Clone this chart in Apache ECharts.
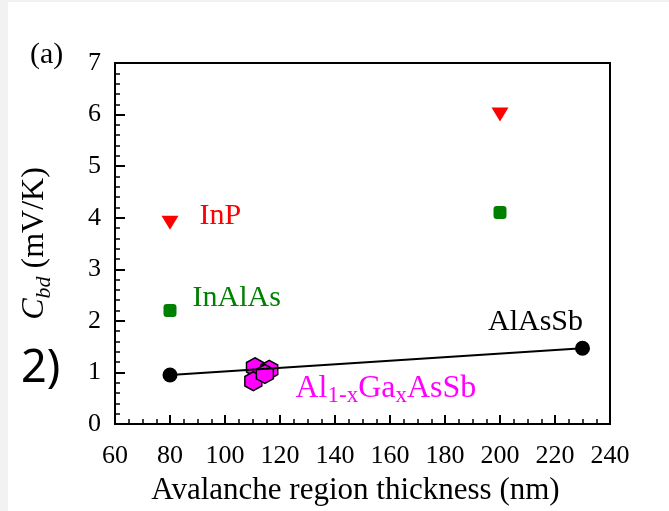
<!DOCTYPE html>
<html><head><meta charset="utf-8">
<script src="https://cdn.jsdelivr.net/npm/echarts@6/dist/echarts.min.js"></script>
<style>html,body{margin:0;padding:0;background:#fff}#c{width:669px;height:511px}</style>
</head><body><div id="c"></div>
<script>
// Data
const inpX = [80, 200];
const inpY = [3.9, 6.0];
const inalasX = [80, 200];
const inalasY = [2.2, 4.1];
const alassbX = [80, 230];
const alassbY = [0.95, 1.47];
const algaX = [110.9, 116.1, 110.3, 114.5];
const algaY = [1.10, 1.05, 0.83, 0.97];
const xMin = 60, xMax = 240, xStep = 20;
const yMin = 0, yMax = 7, yStep = 1;

const F = 'Liberation Serif';
const zip = (a, b) => a.map((v, i) => [v, b[i]]);
const hex = 'path://M0,-10 L8.66,-5 L8.66,5 L0,10 L-8.66,5 L-8.66,-5 Z';

const chart = echarts.init(document.getElementById('c'));
chart.setOption({
  animation: false,
  backgroundColor: '#fff',
  graphic: [
    {type: 'rect', shape: {x: 0, y: 0, width: 8, height: 511}, style: {fill: '#f2f2f2'}, z: -10},
    {type: 'rect', shape: {x: 0, y: 0, width: 669, height: 2}, style: {fill: '#f2f2f2'}, z: -10},
    {type: 'text', left: 30, top: 40, style: {text: '(a)', font: '30px "Liberation Serif"', fill: '#000'}},
    {type: 'text', left: 21, top: 347, style: {text: '2)', font: '45px "Noto Sans"', fill: '#000'}}
  ],
  grid: {left: 115, right: 59, top: 63, bottom: 86, show: true, borderColor: '#000', borderWidth: 2, backgroundColor: 'transparent'},
  xAxis: {
    type: 'value', min: xMin, max: xMax, interval: xStep,
    name: 'Avalanche region thickness (nm)', nameLocation: 'middle', nameGap: 51,
    nameTextStyle: {fontFamily: F, fontSize: 31, color: '#000', padding: [0, 14, 0, 0]},
    axisLine: {show: true, lineStyle: {color: '#000', width: 2}},
    axisTick: {show: true, inside: true, length: 9, lineStyle: {color: '#000', width: 2}},
    minorTick: {show: true, splitNumber: 4, length: 5, lineStyle: {color: '#000', width: 1.5}},
    axisLabel: {fontFamily: F, fontSize: 26, color: '#000', margin: 19},
    splitLine: {show: false}
  },
  yAxis: {
    type: 'value', min: yMin, max: yMax, interval: yStep,
    name: '{i|C}{sub|bd}{n| (mV/K)}', nameLocation: 'middle', nameGap: 60, nameRotate: 90,
    nameTextStyle: {
      color: '#000',
      rich: {
        i: {fontFamily: F, fontSize: 32, fontStyle: 'italic', lineHeight: 40, color: '#000'},
        sub: {fontFamily: F, fontSize: 22, fontStyle: 'italic', lineHeight: 22, verticalAlign: 'bottom', color: '#000'},
        n: {fontFamily: F, fontSize: 32, lineHeight: 40, color: '#000'}
      }
    },
    axisLine: {show: true, lineStyle: {color: '#000', width: 2}},
    axisTick: {show: true, inside: true, length: 10, lineStyle: {color: '#000', width: 2}},
    minorTick: {show: true, splitNumber: 5, length: 5, lineStyle: {color: '#000', width: 1.5}},
    axisLabel: {fontFamily: F, fontSize: 26, color: '#000', margin: 14},
    splitLine: {show: false}
  },
  series: [
    {
      type: 'line', data: zip(alassbX, alassbY), symbol: 'circle', symbolSize: 15,
      lineStyle: {color: '#000', width: 2}, itemStyle: {color: '#000', opacity: 1},
      label: {show: true, position: 'top', distance: 4, offset: [-47, 0],
        formatter: p => p.dataIndex === 1 ? 'AlAsSb' : '', fontFamily: F, fontSize: 30, color: '#000'}
    },
    {
      type: 'scatter', data: zip(inpX, inpY), symbol: 'triangle', symbolRotate: 180, symbolSize: [17, 14],
      itemStyle: {color: '#ff0000', opacity: 1},
      label: {show: true, position: 'right', distance: 0, offset: [21, -7],
        formatter: p => p.dataIndex === 0 ? 'InP' : '', fontFamily: F, fontSize: 30, color: '#ff0000'}
    },
    {
      type: 'scatter', data: zip(inalasX, inalasY), symbol: 'roundRect', symbolSize: 13,
      itemStyle: {color: '#008000', opacity: 1},
      label: {show: true, position: 'right', distance: 0, offset: [16, -12],
        formatter: p => p.dataIndex === 0 ? 'InAlAs' : '', fontFamily: F, fontSize: 30, color: '#008000'}
    },
    {
      type: 'scatter', data: zip(algaX, algaY), symbol: hex, symbolSize: [17, 19],
      itemStyle: {color: '#ff00ff', borderColor: '#000', borderWidth: 1.5, opacity: 1},
      label: {show: true, position: 'right', distance: 0, offset: [17, 19],
        formatter: p => p.dataIndex === 1 ? '{m|Al}{s|1-x}{m|Ga}{s|x}{m|AsSb}' : '',
        rich: {
          m: {fontFamily: F, fontSize: 32, lineHeight: 38, color: '#ff00ff'},
          s: {fontFamily: F, fontSize: 23, lineHeight: 23, verticalAlign: 'bottom', color: '#ff00ff'}
        }}
    }
  ]
});
</script></body></html>
